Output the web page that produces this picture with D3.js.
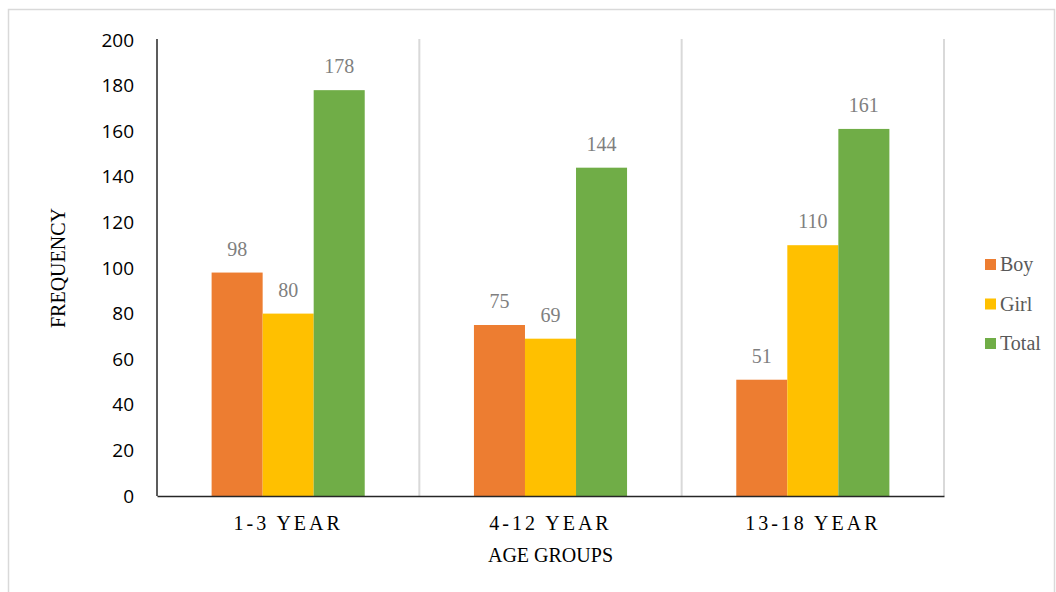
<!DOCTYPE html>
<html>
<head>
<meta charset="utf-8">
<script src="https://cdn.jsdelivr.net/npm/d3@7"></script>
<style>
  body { margin: 0; background: #fff; }
</style>
</head>
<body>
<div class="canvas"></div>
<script>
// chart data
const categories = ['1-3 YEAR', '4-12 YEAR', '13-18 YEAR'];
const seriesNames = ['Boy', 'Girl', 'Total'];
const boy = [98, 75, 51];
const girl = [80, 69, 110];
const total = [178, 144, 161];
const yTicks = [0, 20, 40, 60, 80, 100, 120, 140, 160, 180, 200];
const colors = ['#ED7D31', '#FFC000', '#70AD47'];

const seriesValues = [boy, girl, total];
const data = categories.map((c, i) => ({
    cat: c,
    values: seriesNames.map((s, j) => ({ series: s, value: seriesValues[j][i] }))
}));

const W = 1056, H = 592;
const margin = { top: 40, right: 112, bottom: 96, left: 157 };
const graphWidth = W - margin.left - margin.right;
const graphHeight = H - margin.top - margin.bottom;
const serif = '"Liberation Serif", "Times New Roman", serif';

const svg = d3.select('.canvas')
    .append('svg')
    .attr('width', W)
    .attr('height', H);

// outer frame
svg.append('rect')
    .attr('x', 8.5).attr('y', 9.5)
    .attr('width', 1046).attr('height', 600)
    .attr('fill', 'none')
    .attr('stroke', '#d9d9d9')
    .attr('stroke-width', 1.5);

const graph = svg.append('g')
    .attr('transform', `translate(${margin.left}, ${margin.top})`);

// scales
const y = d3.scaleLinear().domain([0, 200]).range([graphHeight, 0]);
const x0 = d3.scaleBand().domain(categories).range([0, graphWidth]).padding(0);
const x1 = d3.scaleBand().domain(seriesNames).range([0, x0.bandwidth()])
    .paddingInner(0).paddingOuter(1.07);

// vertical separators between categories
graph.selectAll('line.sep')
    .data(categories)
    .enter()
    .append('line')
    .attr('class', 'sep')
    .attr('x1', d => x0(d) + x0.bandwidth())
    .attr('x2', d => x0(d) + x0.bandwidth())
    .attr('y1', y(200) - 1)
    .attr('y2', graphHeight)
    .attr('stroke', '#d9d9d9')
    .attr('stroke-width', 2);

// bars
const groups = graph.selectAll('g.grp')
    .data(data)
    .enter()
    .append('g')
    .attr('class', 'grp')
    .attr('transform', d => `translate(${x0(d.cat)}, 0)`);

groups.selectAll('rect')
    .data(d => d.values)
    .enter()
    .append('rect')
    .attr('x', d => x1(d.series))
    .attr('y', d => y(d.value))
    .attr('width', x1.bandwidth())
    .attr('height', d => graphHeight - y(d.value))
    .attr('fill', (d, i) => colors[i]);

// data labels
groups.selectAll('text.lbl')
    .data(d => d.values)
    .enter()
    .append('text')
    .attr('class', 'lbl')
    .attr('x', d => x1(d.series) + x1.bandwidth() / 2)
    .attr('y', d => y(d.value) - 17)
    .attr('text-anchor', 'middle')
    .attr('font-family', serif)
    .attr('font-size', 20)
    .attr('fill', '#7f7f7f')
    .text(d => d.value);

// y axis
const yAxisGroup = graph.append('g');
yAxisGroup.call(d3.axisLeft(y).tickValues(yTicks).tickSize(0).tickPadding(23));
yAxisGroup.select('.domain').attr('stroke', '#262626').attr('stroke-width', 1.5)
    .attr('d', `M0,${y(200) - 1}V${graphHeight}`);
yAxisGroup.selectAll('text')
    .attr('font-family', '"Open Sans", sans-serif')
    .attr('font-size', 19)
    .attr('fill', '#000');

// x axis
const xAxisGroup = graph.append('g')
    .attr('transform', `translate(0, ${graphHeight})`);
xAxisGroup.call(d3.axisBottom(x0).tickSize(0).tickPadding(0));
xAxisGroup.select('.domain').attr('stroke', '#262626').attr('stroke-width', 1.5);
xAxisGroup.selectAll('text')
    .attr('dy', null)
    .attr('y', 34)
    .attr('font-family', serif)
    .attr('font-size', 20)
    .attr('letter-spacing', 3)
    .attr('fill', '#000');

// axis titles
svg.append('text')
    .attr('x', margin.left + graphWidth / 2)
    .attr('y', 562)
    .attr('text-anchor', 'middle')
    .attr('font-family', serif)
    .attr('font-size', 20)
    .text('AGE GROUPS');

svg.append('text')
    .attr('transform', `translate(65, ${margin.top + graphHeight / 2}) rotate(-90)`)
    .attr('text-anchor', 'middle')
    .attr('font-family', serif)
    .attr('font-size', 20)
    .text('FREQUENCY');

// legend
const legend = svg.append('g').attr('transform', 'translate(985, 259)');
const items = legend.selectAll('g')
    .data(seriesNames)
    .enter()
    .append('g')
    .attr('transform', (d, i) => `translate(0, ${i * 39.5})`);
items.append('rect')
    .attr('width', 11).attr('height', 11)
    .attr('fill', (d, i) => colors[i]);
items.append('text')
    .attr('x', 15)
    .attr('y', 12)
    .attr('font-family', serif)
    .attr('font-size', 20)
    .attr('fill', '#595959')
    .text(d => d);
</script>
</body>
</html>
